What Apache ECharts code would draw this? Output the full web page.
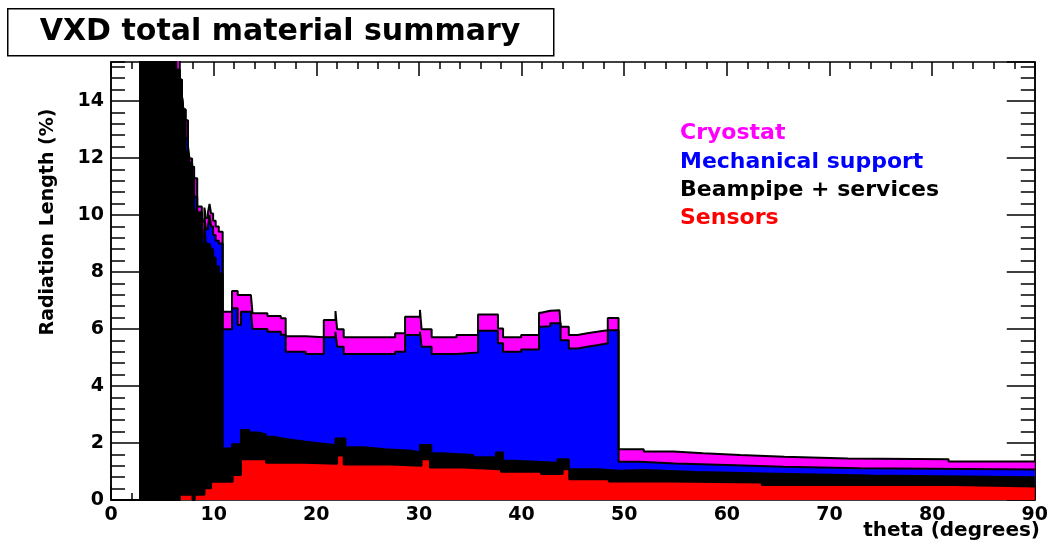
<!DOCTYPE html>
<html>
<head>
<meta charset="utf-8">
<script src="https://cdn.jsdelivr.net/npm/echarts@6/dist/echarts.min.js"></script>
<style>
  html, body { margin: 0; padding: 0; background: #ffffff; }
  #chart { width: 1051px; height: 546px; }
</style>
</head>
<body>
<div id="chart"></div>
<script>
// Layer names and fill colours, back to front
const seriesNames = ['Cryostat', 'Mechanical support', 'Beampipe + services', 'Sensors'];
const seriesColors = ['#ff00ff', '#0000ff', '#000000', '#ff0000'];

// Stacked radiation length (%) per theta bin: [bin start (deg), cumulative height]
const cryostatTop = [
  [0, 0], [2.85, 33], [3.5, 29], [4.0, 25.5], [4.5, 22.5], [5.0, 20.2], [5.5, 18.3], [6.0, 16.6],
  [6.35, 15.6], [6.7, 14.75], [6.9, 14.2], [7.05, 13.7], [7.25, 13.33], [7.5, 12.42], [7.65, 11.98],
  [7.9, 11.69], [8.1, 11.29], [8.4, 10.3], [8.85, 9.77], [9.1, 10.26], [9.25, 9.9], [9.45, 10.1],
  [9.6, 10.39], [9.75, 10.05], [9.95, 9.8], [10.2, 9.6], [10.5, 9.41],
  [10.88, 6.61], [11.79, 7.33], [12.34, 7.19], [13.63, 7.13], [13.79, 6.55], [15.24, 6.46],
  [16.54, 6.38], [17.02, 5.75], [18.96, 5.71], [20.73, 6.32], [21.87, 6.63], [22.03, 5.99],
  [22.67, 5.71], [27.68, 5.85], [28.65, 6.43], [30.1, 6.67], [30.26, 5.99], [31.24, 5.71],
  [33.66, 5.79], [35.76, 6.51], [37.7, 6.02], [38.2, 5.71], [39.96, 5.79], [41.7, 6.57],
  [41.9, 6.64], [42.8, 6.66], [43.7, 6.7], [43.8, 6.08], [44.6, 5.79], [45.45, 5.85],
  [46.4, 5.91], [47.5, 5.96], [48.4, 6.39],
  [49.45, 1.78], [51.9, 1.70], [54.8, 1.64], [57.7, 1.58], [61.3, 1.52], [65.6, 1.46],
  [71.8, 1.43], [81.6, 1.35]
];
const mechanicalTop = [
  [0, 0], [2.85, 33], [3.5, 29], [4.0, 25.5], [4.5, 22.5], [5.0, 20.2], [5.5, 18.3], [6.0, 16.6],
  [6.35, 15.1], [6.7, 14.75], [6.9, 14.2], [7.05, 13.7], [7.25, 12.69], [7.5, 12.22], [7.65, 11.85],
  [7.9, 11.35], [8.1, 10.64], [8.4, 10.1], [8.85, 9.24], [9.1, 9.9], [9.25, 9.5], [9.45, 9.6],
  [9.6, 10.0], [9.75, 9.6], [9.95, 9.3], [10.2, 9.1], [10.5, 9.0],
  [10.88, 5.99], [11.79, 6.73], [12.34, 6.14], [12.66, 6.61], [13.63, 6.55], [13.79, 6.0],
  [15.24, 5.9], [16.54, 5.8], [17.02, 5.20], [18.96, 5.12], [20.73, 5.71], [21.87, 5.9],
  [22.03, 5.38], [22.67, 5.12], [27.68, 5.20], [28.65, 5.79], [30.1, 5.9], [30.26, 5.38],
  [31.24, 5.12], [33.66, 5.18], [35.76, 5.94], [37.7, 5.5], [38.2, 5.20], [39.96, 5.28],
  [41.7, 6.08], [41.9, 6.1], [42.8, 6.2], [43.8, 5.61], [44.6, 5.32], [45.45, 5.38],
  [46.4, 5.44], [47.5, 5.50], [48.4, 5.96],
  [49.45, 1.34], [51.5, 1.28], [55.0, 1.23], [60.0, 1.17], [65.5, 1.11], [73.0, 1.07]
];
const beampipeTop = [
  [0, 0], [2.85, 33], [3.5, 29], [4.0, 25.5], [4.5, 22.5], [5.0, 20.2], [5.5, 18.3], [6.0, 16.6],
  [6.35, 15.1], [6.7, 14.75], [6.9, 14.2], [7.05, 13.7], [7.25, 12.22], [7.5, 12.05], [7.65, 11.8],
  [7.9, 11.3], [8.1, 10.18], [8.4, 10.05], [8.85, 9.0], [9.1, 9.5], [9.25, 9.0], [9.45, 8.9],
  [9.6, 9.0], [9.75, 8.8], [9.95, 8.5], [10.2, 8.2], [10.5, 7.95],
  [10.88, 1.81], [11.79, 1.96], [12.66, 2.46], [13.47, 2.37], [14.28, 2.31], [15.08, 2.22],
  [15.89, 2.16], [16.7, 2.11], [17.67, 2.05], [18.8, 1.99], [20.25, 1.93], [21.87, 2.16],
  [22.84, 1.85], [24.6, 1.78], [26.7, 1.73], [29.3, 1.67], [30.1, 1.93], [31.2, 1.64],
  [32.2, 1.58], [35.3, 1.50], [37.5, 1.67], [38.2, 1.38], [39.3, 1.31], [43.5, 1.43],
  [44.6, 1.08], [47.5, 1.03], [49.45, 1.05], [52.0, 0.98], [57.0, 0.92], [65.0, 0.86], [74.0, 0.80]
];
const sensorsTop = [
  [0, 0], [6.7, 0.18], [7.95, 0], [8.15, 0.18], [9.1, 0.41], [9.75, 0.64], [11.85, 0.88],
  [12.66, 1.43], [15.1, 1.31], [18.8, 1.27], [22.03, 1.56], [22.67, 1.25], [27.2, 1.20],
  [30.26, 1.43], [31.07, 1.14], [34.3, 1.08], [37.86, 1.30], [38.0, 0.99], [41.9, 0.91],
  [44.0, 1.08], [44.64, 0.73], [48.5, 0.65], [54.65, 0.61], [63.4, 0.53], [82.1, 0.47]
];

const THETA_MAX = 90;
const RL_MAX = 15.37;
const FONT = 'DejaVu Sans';

// close each step histogram at the upper theta edge
function toSteps(list) {
  const pts = list.map(p => [p[0], p[1]]);
  pts.push([THETA_MAX, list[list.length - 1][1]]);
  return pts;
}

const layers = [cryostatTop, mechanicalTop, beampipeTop, sensorsTop];

const chart = echarts.init(document.getElementById('chart'), null, { renderer: 'canvas' });

const xBase = {
  type: 'value', min: 0, max: THETA_MAX, interval: 10,
  splitLine: { show: false },
  axisLine: { show: true, onZero: false, lineStyle: { color: '#000', width: 1.5 } },
  axisTick: { show: true, inside: true, length: 14, lineStyle: { color: '#000', width: 1.5 } },
  minorTick: { show: true, splitNumber: 5, length: 7, lineStyle: { color: '#000', width: 1.5 } }
};
function yAxisDef(position, interval, tickLen, labels) {
  return {
    type: 'value', position, min: 0, max: RL_MAX, interval,
    splitLine: { show: false },
    axisLine: { show: true, onZero: false, lineStyle: { color: '#000', width: 1.5 } },
    axisTick: { show: true, inside: true, length: tickLen, lineStyle: { color: '#000', width: 1.5 } },
    axisLabel: labels ? {
      show: true, margin: 7, showMaxLabel: false, color: '#000',
      fontFamily: FONT, fontWeight: 'bold', fontSize: 19
    } : { show: false }
  };
}

chart.setOption({
  animation: false,
  backgroundColor: '#ffffff',
  grid: { left: 111, right: 11, top: 62, bottom: 46, containLabel: false },
  xAxis: [
    Object.assign({}, xBase, {
      position: 'bottom',
      axisLabel: { show: true, margin: 6, color: '#000', fontFamily: FONT, fontWeight: 'bold', fontSize: 19 }
    }),
    Object.assign({}, xBase, { position: 'top', axisLabel: { show: false } })
  ],
  yAxis: [
    yAxisDef('left', 2, 28, true),
    yAxisDef('left', 0.4, 14, false),
    yAxisDef('right', 2, 28, false),
    yAxisDef('right', 0.4, 14, false)
  ],
  series: layers.map((d, i) => ({
    type: 'line',
    name: seriesNames[i],
    xAxisIndex: 0,
    yAxisIndex: 0,
    step: 'end',
    data: toSteps(d),
    symbol: 'none',
    showSymbol: false,
    clip: true,
    silent: true,
    lineStyle: { color: '#000', width: 2 },
    itemStyle: { color: seriesColors[i] },
    areaStyle: { color: seriesColors[i], opacity: 1 }
  })),
  graphic: [
    {
      type: 'rect', left: 7, top: 8, silent: true,
      shape: { width: 546, height: 47 },
      style: { fill: '#fff', stroke: '#000', lineWidth: 1.5 }
    },
    {
      type: 'text', x: 280, y: 32, silent: true,
      style: {
        text: 'VXD total material summary', fill: '#000',
        font: 'bold 30px "DejaVu Sans"', align: 'center', verticalAlign: 'middle'
      }
    },
    {
      type: 'text', x: 1040, y: 531, silent: true,
      style: {
        text: 'theta (degrees)', fill: '#000',
        font: 'bold 20px "DejaVu Sans"', align: 'right', verticalAlign: 'middle'
      }
    },
    {
      type: 'text', x: 48, y: 222, rotation: Math.PI / 2, silent: true,
      style: {
        text: 'Radiation Length (%)', fill: '#000',
        font: 'bold 19px "DejaVu Sans"', align: 'center', verticalAlign: 'middle'
      }
    }
  ].concat(seriesNames.map((name, i) => ({
    type: 'text', x: 680, y: [133, 162, 190, 218][i], silent: true,
    style: {
      text: name, fill: seriesColors[i],
      font: 'bold 22px "DejaVu Sans"', align: 'left', verticalAlign: 'middle'
    }
  })))
});
</script>
</body>
</html>
